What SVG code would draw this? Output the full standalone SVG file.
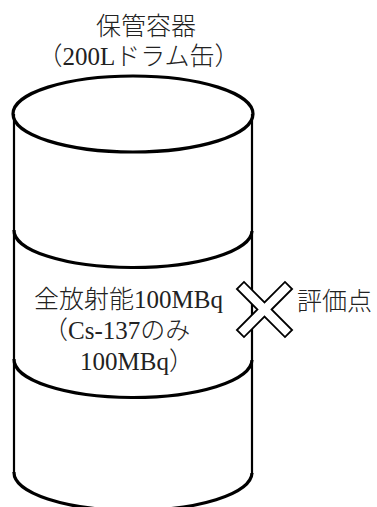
<svg xmlns="http://www.w3.org/2000/svg" width="377" height="507" viewBox="0 0 377 507">
  <style>
    .lbl { font-family: "Liberation Serif", "Noto Sans CJK JP", serif; font-size: 25px; font-weight: 300; fill: #222; }
    .rim { fill: none; stroke: #000; stroke-width: 3.2; }
    .side { fill: none; stroke: #000; stroke-width: 2.2; }
    .mark { fill: #fff; stroke: #000; stroke-width: 1.8; stroke-linejoin: miter; }
  </style>
  <rect width="377" height="507" fill="#fff"/>

  <!-- storage drum (200 L) -->
  <g id="drum">
    <line class="side" x1="14" y1="114" x2="14" y2="473"/>
    <line class="side" x1="252" y1="114" x2="252" y2="474"/>
    <ellipse class="rim" cx="133" cy="114" rx="120" ry="38"/>
    <path class="rim" d="M14,230 A119,37 0 0 0 252,231"/>
    <path class="rim" d="M14,359 A119,38 0 0 0 252,360"/>
    <path class="rim" d="M14,472 A119,38 0 0 0 252,473"/>
  </g>

  <!-- container caption -->
  <g id="drum-title">
    <text class="lbl" x="146" y="35" text-anchor="middle">保管容器</text>
    <text class="lbl" x="138.5" y="65" text-anchor="middle">（200Lドラム缶）</text>
  </g>

  <!-- source inventory -->
  <g id="source">
    <text class="lbl" x="34" y="308">全放射能100MBq</text>
    <text class="lbl" x="43" y="339">（Cs-137のみ</text>
    <text class="lbl" x="80" y="370">100MBq）</text>
  </g>

  <!-- evaluation point -->
  <g id="eval-point">
    <polygon class="mark" transform="translate(264.5,309.5)"
      points="7.07,0 27.6,-20.5 20.5,-27.6 0,-7.07 -20.5,-27.6 -27.6,-20.5 -7.07,0 -27.6,20.5 -20.5,27.6 0,7.07 20.5,27.6 27.6,20.5"/>
    <text class="lbl" x="297" y="310">評価点</text>
  </g>
</svg>
